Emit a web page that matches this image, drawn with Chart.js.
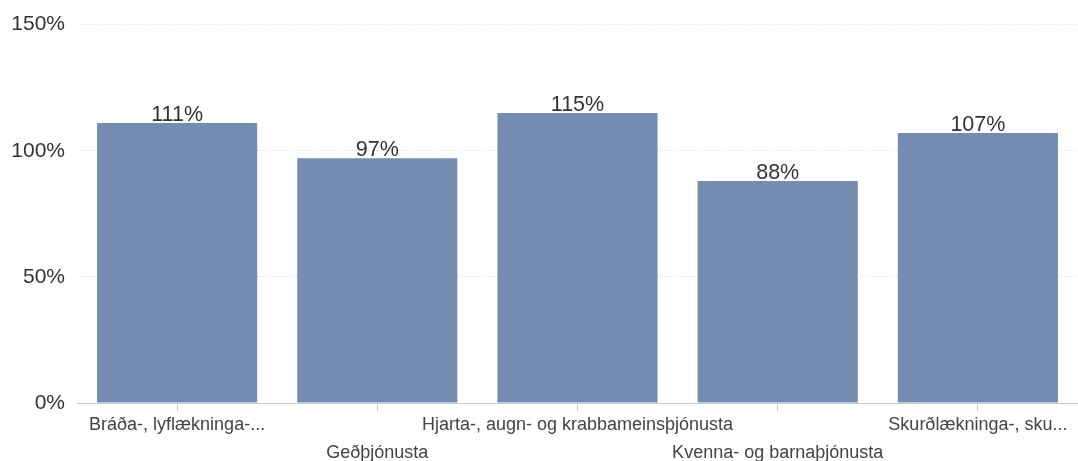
<!DOCTYPE html>
<html><head><meta charset="utf-8">
<script src="https://cdn.jsdelivr.net/npm/chart.js@4"></script>
<style>html,body{margin:0;padding:0;background:#fff}#wrap{width:1078px;height:461px}</style>
</head><body><div id="wrap"><canvas id="c" width="1078" height="461"></canvas></div>
<script>
const categories = ["Bráða-, lyflækninga-...", "Geðþjónusta", "Hjarta-, augn- og krabbameinsþjónusta", "Kvenna- og barnaþjónusta", "Skurðlækninga-, sku..."];
const values = [111, 97, 115, 88, 107];
const yTicks = [0, 50, 100, 150];

const labelPlugin = {
  id: 'valLabels',
  afterDatasetsDraw(chart) {
    const ctx = chart.ctx;
    const meta = chart.getDatasetMeta(0);
    ctx.save();
    ctx.font = '21.5px "Liberation Sans", Arial, sans-serif';
    ctx.fillStyle = '#333';
    ctx.textAlign = 'center';
    ctx.textBaseline = 'alphabetic';
    meta.data.forEach((bar, i) => {
      ctx.fillText(values[i] + '%', bar.x, bar.y - 2);
    });
    ctx.restore();
  }
};

new Chart(document.getElementById('c'), {
  type: 'bar',
  data: {
    labels: categories.map((c, i) => i % 2 === 1 ? ['', c] : c),
    datasets: [{ data: values, backgroundColor: '#748cb2', barPercentage: 0.8, categoryPercentage: 1.0 }]
  },
  plugins: [labelPlugin],
  options: {
    responsive: false,
    animation: false,
    layout: { padding: { top: 10, right: 0, left: 0, bottom: 0 } },
    plugins: { legend: { display: false }, tooltip: { enabled: false } },
    scales: {
      x: {
        grid: { drawOnChartArea: false, drawTicks: true, tickLength: 8, offset: false, color: '#cccccc' },
        border: { display: true, color: '#cccccc' },
        ticks: { autoSkip: false, maxRotation: 0, minRotation: 0, padding: 0, color: '#444',
          font: { family: '"Liberation Sans", Arial, sans-serif', size: 18, lineHeight: 1.556 } },
        afterFit(s) { s.height = 58; }
      },
      y: {
        min: 0, max: 150,
        afterBuildTicks(s) { s.ticks = yTicks.map(v => ({ value: v })); },
        grid: { color: '#d8d8d8', drawTicks: false },
        border: { display: false, dash: [1, 2] },
        ticks: { padding: 12, color: '#333', callback: v => v + '%',
          font: { family: '"Liberation Sans", Arial, sans-serif', size: 21 } },
        afterFit(s) { s.width = 77; }
      }
    }
  }
});
</script></body></html>
